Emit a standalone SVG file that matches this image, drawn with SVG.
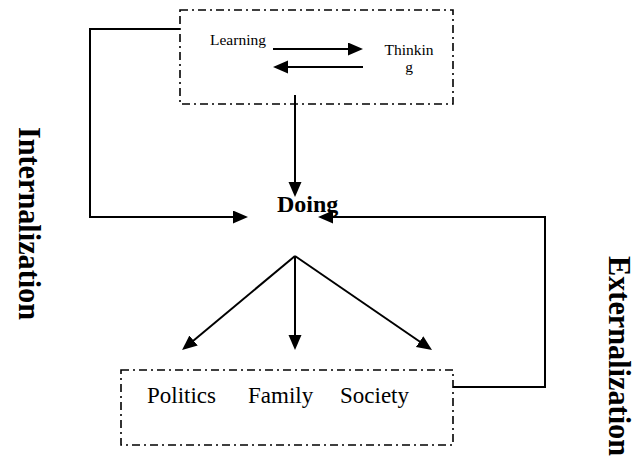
<svg xmlns="http://www.w3.org/2000/svg" width="643" height="466" viewBox="0 0 643 466">
<style>
  .box { fill: none; stroke: #000; stroke-width: 1.6; stroke-dasharray: 8 4 2 4; }
  .conn { fill: none; stroke: #000; stroke-width: 2; }
  .t { font-family: "Liberation Serif", "Times New Roman", serif; fill: #000; }
  .b { font-family: "Liberation Serif", "Times New Roman", serif; font-weight: bold; fill: #000; }
</style>
<defs>
  <marker id="ah" markerUnits="userSpaceOnUse" markerWidth="16" markerHeight="14" refX="7" refY="6.5" orient="auto">
    <path d="M0,0 L15,6.5 L0,13 Z" fill="#000"/>
  </marker>
</defs>
<rect width="643" height="466" fill="#fff"/>

<g id="connectors">
  <polyline class="conn" points="180,29 90,29 90,217 240,217" marker-end="url(#ah)"/>
  <polyline class="conn" points="453,387 545,387 545,217 326,217" marker-end="url(#ah)"/>
  <line class="conn" x1="295" y1="95" x2="295" y2="189" marker-end="url(#ah)"/>
  <line class="conn" x1="273" y1="49" x2="355" y2="49" marker-end="url(#ah)"/>
  <line class="conn" x1="363" y1="67" x2="281" y2="67" marker-end="url(#ah)"/>
  <line class="conn" x1="295" y1="256" x2="188.2" y2="344.9" marker-end="url(#ah)"/>
  <line class="conn" x1="295" y1="256" x2="295" y2="342" marker-end="url(#ah)"/>
  <line class="conn" x1="295" y1="256" x2="425.4" y2="345.5" marker-end="url(#ah)"/>
</g>

<g id="top-box">
  <rect class="box" x="180" y="10" width="273" height="94"/>
  <text class="t" x="210" y="45" font-size="15.5">Learning</text>
  <text class="t" x="409" y="55" font-size="15.5" text-anchor="middle">Thinkin</text>
  <text class="t" x="409" y="72" font-size="15.5" text-anchor="middle">g</text>
</g>

<g id="doing">
  <text class="b" x="277" y="212" font-size="24">Doing</text>
</g>

<g id="bottom-box">
  <rect class="box" x="121" y="370" width="332" height="75"/>
  <text class="t" x="147" y="403" font-size="23">Politics</text>
  <text class="t" x="248" y="403" font-size="23">Family</text>
  <text class="t" x="340" y="403" font-size="23">Society</text>
</g>

<g id="internalization">
  <text class="b" font-size="32" transform="translate(19 127) rotate(90)" x="0" y="0" textLength="193" lengthAdjust="spacingAndGlyphs">Internalization</text>
</g>

<g id="externalization">
  <text class="b" font-size="31" transform="translate(609 256) rotate(90)" x="0" y="0" textLength="200" lengthAdjust="spacingAndGlyphs">Externalization</text>
</g>
</svg>
